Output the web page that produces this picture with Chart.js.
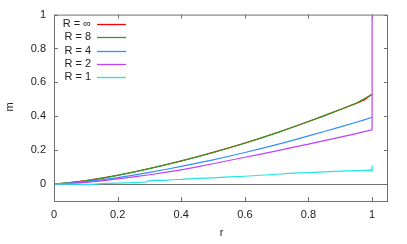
<!DOCTYPE html>
<html>
<head>
<meta charset="utf-8">
<script src="https://cdn.jsdelivr.net/npm/chart.js@4.4.1/dist/chart.umd.min.js"></script>
<style>
html,body{margin:0;padding:0;background:#fff;}
canvas{display:block;}
</style>
</head>
<body>
<canvas id="c" width="407" height="244"></canvas>
<script>
// ---- data ----
const seriesLabels = ["R = \u221e", "R = 8", "R = 4", "R = 2", "R = 1"];
const seriesColors = ["#ff0000", "#22a222", "#2f8fff", "#c040ff", "#22e6e6"];

const rGrid = [0, 0.05, 0.1, 0.15, 0.2, 0.25, 0.3, 0.35, 0.4, 0.45, 0.5, 0.55, 0.6, 0.65, 0.7, 0.75, 0.8, 0.85, 0.9, 0.95, 0.975, 1];
const mInf = [0, 0.009, 0.020, 0.035, 0.052, 0.071, 0.092, 0.114, 0.137, 0.161, 0.187, 0.214, 0.242, 0.272, 0.303, 0.335, 0.369, 0.404, 0.440, 0.476, 0.496, 0.53];
const m8   = [0, 0.008, 0.019, 0.034, 0.051, 0.070, 0.091, 0.113, 0.136, 0.160, 0.186, 0.213, 0.241, 0.271, 0.302, 0.335, 0.369, 0.404, 0.440, 0.477, 0.503, 0.53];
const m4   = [0, 0.006, 0.014, 0.025, 0.038, 0.053, 0.069, 0.086, 0.104, 0.123, 0.143, 0.164, 0.186, 0.209, 0.233, 0.258, 0.284, 0.310, 0.337, 0.365, 0.379, 0.394];
const m2   = [0, 0.004, 0.010, 0.019, 0.030, 0.042, 0.055, 0.069, 0.084, 0.101, 0.120, 0.139, 0.158, 0.177, 0.196, 0.216, 0.236, 0.256, 0.277, 0.298, 0.309, 0.320];
const m2EndSpike = [0.99];

const rCyan = [0, 0.05, 0.1, 0.12, 0.15, 0.2, 0.25, 0.28, 0.29, 0.3, 0.32, 0.35, 0.38, 0.4, 0.45, 0.5, 0.55, 0.6, 0.65, 0.7, 0.75, 0.8, 0.85, 0.9, 0.95, 1];
const m1    = [0, 0.0, -0.002, -0.002, 0.003, 0.006, 0.009, 0.011, 0.013, 0.02, 0.023, 0.022, 0.027, 0.028, 0.034, 0.037, 0.042, 0.046, 0.052, 0.058, 0.064, 0.068, 0.072, 0.076, 0.079, 0.082];
const m1EndSpike = [0.111, 0.072];

const xTickValues = [0, 0.2, 0.4, 0.6, 0.8, 1];
const yTickValues = [0, 0.2, 0.4, 0.6, 0.8, 1];
const xAxisTitle = "r";
const yAxisTitle = "m";

// ---- build point lists ----
function pts(xs, ys) { return xs.map((x, i) => ({x: x, y: ys[i]})); }
function withSpike(list, xEnd, spikes) { return list.concat(spikes.map(v => ({x: xEnd, y: v}))); }

const dataLists = [
  pts(rGrid, mInf),
  pts(rGrid, m8),
  pts(rGrid, m4),
  withSpike(pts(rGrid, m2), 1, m2EndSpike),
  withSpike(pts(rCyan, m1), 1, m1EndSpike)
];

Chart.defaults.font.family = "'Liberation Sans', Arial, sans-serif";
Chart.defaults.font.size = 11;
Chart.defaults.color = "#222";

const frameColor = "#707070";

const framePlugin = {
  id: "frame",
  beforeDatasetsDraw(chart) {
    const ctx = chart.ctx, a = chart.chartArea;
    const xs = chart.scales.x, ys = chart.scales.y;
    ctx.save();
    ctx.strokeStyle = frameColor;
    ctx.lineWidth = 1;
    const y0 = Math.round(ys.getPixelForValue(0)) + 0.5;
    ctx.beginPath(); ctx.moveTo(a.left, y0); ctx.lineTo(a.right, y0); ctx.stroke();
    const tl = 4;
    ctx.beginPath();
    xTickValues.forEach(v => {
      const px = Math.round(xs.getPixelForValue(v)) + 0.5;
      ctx.moveTo(px, a.bottom); ctx.lineTo(px, a.bottom - tl);
      ctx.moveTo(px, a.top); ctx.lineTo(px, a.top + tl);
    });
    yTickValues.forEach(v => {
      const py = Math.round(ys.getPixelForValue(v)) + 0.5;
      ctx.moveTo(a.left, py); ctx.lineTo(a.left + tl, py);
      ctx.moveTo(a.right, py); ctx.lineTo(a.right - tl, py);
    });
    ctx.stroke();
    ctx.restore();
  },
  afterDraw(chart) {
    const ctx = chart.ctx, a = chart.chartArea;
    ctx.save();
    ctx.strokeStyle = frameColor;
    ctx.lineWidth = 1;
    ctx.strokeRect(a.left + 0.5, a.top + 0.5, a.right - a.left - 1, a.bottom - a.top);
    ctx.fillStyle = "#222";
    ctx.font = "11px 'Liberation Sans', Arial, sans-serif";
    ctx.textAlign = "center";
    ctx.textBaseline = "middle";
    ctx.fillText(xAxisTitle, (a.left + a.right) / 2 + 0.5, 233);
    ctx.save();
    ctx.translate(10, 107);
    ctx.rotate(-Math.PI / 2);
    ctx.fillText(yAxisTitle, 0, 0);
    ctx.restore();
    const ly0 = a.top + 9.5, ldy = 13.2;
    seriesLabels.forEach((lab, i) => {
      const y = ly0 + i * ldy;
      ctx.textAlign = "right";
      ctx.fillStyle = "#222";
      ctx.fillText(lab, 91, y);
      ctx.strokeStyle = seriesColors[i];
      ctx.lineWidth = 1.3;
      ctx.beginPath(); ctx.moveTo(97, Math.round(y) + 0.5); ctx.lineTo(126, Math.round(y) + 0.5); ctx.stroke();
    });
    ctx.restore();
  }
};

new Chart(document.getElementById("c"), {
  type: "scatter",
  data: {
    datasets: dataLists.map((d, i) => ({
      label: seriesLabels[i],
      data: d,
      showLine: true,
      borderColor: seriesColors[i],
      backgroundColor: seriesColors[i],
      borderWidth: 1.2,
      pointRadius: 0,
      pointHoverRadius: 0,
      tension: 0,
      fill: false,
      order: 5 - i
    }))
  },
  options: {
    responsive: false,
    animation: false,
    events: [],
    layout: { padding: { top: 13, right: 19, left: 0, bottom: 0 } },
    plugins: { legend: { display: false }, tooltip: { enabled: false } },
    scales: {
      x: {
        type: "linear", min: 0, max: 1.05,
        grid: { display: false, drawTicks: false },
        border: { display: false },
        afterBuildTicks: s => { s.ticks = xTickValues.map(v => ({value: v})); },
        afterFit: s => { s.height = 43; },
        ticks: { padding: 7, autoSkip: false, maxRotation: 0, callback: v => String(v) }
      },
      y: {
        type: "linear", min: -0.1, max: 1.0,
        grid: { display: false, drawTicks: false },
        border: { display: false },
        afterBuildTicks: s => { s.ticks = yTickValues.map(v => ({value: v})); },
        afterFit: s => { s.width = 54; },
        ticks: { padding: 8, autoSkip: false, callback: v => String(v) }
      }
    }
  },
  plugins: [framePlugin]
});
</script>
</body>
</html>
